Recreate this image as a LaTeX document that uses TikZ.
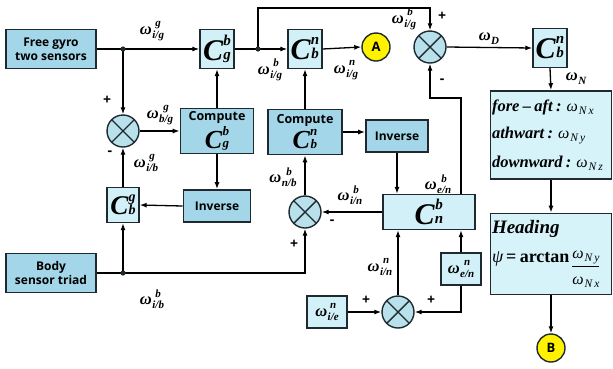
\documentclass[tikz,border=0pt]{standalone}
\usepackage{fontspec}
\usepackage{amsmath}
\usetikzlibrary{arrows.meta,calc}
\newfontfamily\tms{Liberation Serif}
\newfontfamily\sansb{Open Sans}
\definecolor{boxblue}{HTML}{A3D6E8}
\definecolor{cblue}{HTML}{D2F0F8}
\definecolor{sumblue}{HTML}{B9E1EC}
\definecolor{rblue}{HTML}{D6F3FA}
\definecolor{edge}{HTML}{1E2A30}
\newcommand\tbi{\tms\bfseries\itshape}
\newcommand\scripts[4]{%
  \setbox0=\hbox{#1}\setbox2=\hbox{#2}%
  \dimen0=\wd2 \ifdim\wd0>\dimen0 \dimen0=\wd0 \fi
  \rlap{\hbox to\dimen0{\hss\raise#3\box0\hss}}\hbox to\dimen0{\hss\lower#4\box2\hss}}
\newcommand\wl[2]{\mbox{\tbi\fontsize{16.5}{16.5}\selectfont ω\kern0.5pt\fontsize{11}{11}\selectfont\scripts{#1}{#2}{7.5pt}{4pt}}}
\newcommand\ws[1]{\mbox{\tbi\fontsize{16.5}{16.5}\selectfont ω\kern0.5pt\fontsize{11}{11}\selectfont\lower4pt\hbox{#1}}}
% C with scripts: sup, sub, C size, script size, raise, lower
\newcommand\Cg[6]{\mbox{\tbi\fontsize{#3}{#3}\selectfont C\kern0.3pt\fontsize{#4}{#4}\selectfont\scripts{#1}{#2}{#5}{#6}}}
\newcommand\Cbig[2]{\Cg{#1}{#2}{30}{15}{15pt}{-1pt}}
\newcommand\Cmid[2]{\Cg{#1}{#2}{26}{13}{13pt}{-0.5pt}}
\newcommand\wrt[1]{\mbox{\tms\itshape\fontsize{16}{16}\selectfont ω\kern1pt\fontsize{11.5}{11.5}\selectfont\lower3pt\hbox{#1}}}
\newcommand\rtx[1]{{\tbi\fontsize{16.5}{16.5}\selectfont #1}}
\begin{document}
\begin{tikzpicture}[x=1pt,y=-1pt,
  line width=1.3pt,
  arr/.style={-{Latex[length=7pt,width=5pt]}},
  bbox/.style={draw=edge, line width=1.6pt, fill=boxblue, inner sep=0pt, align=center,
     font=\sansb\bfseries\fontsize{12}{14}\selectfont},
  cbox/.style={draw=edge, line width=1.3pt, fill=cblue, inner sep=0pt},
  rbox/.style={draw=edge, line width=1.6pt, fill=rblue, inner sep=1.5pt},
  sumc/.style={circle, draw=edge, line width=1.4pt, fill=sumblue, minimum size=32pt, inner sep=0pt,
     path picture={\draw[line width=1.4pt,edge] (path picture bounding box.north west) -- (path picture bounding box.south east)
        (path picture bounding box.north east) -- (path picture bounding box.south west);}},
  ycirc/.style={circle, draw=edge, line width=1.4pt, fill=yellow, minimum size=28pt, inner sep=0pt,
     font=\sansb\bfseries\fontsize{13}{13}\selectfont},
  sign/.style={font=\sansb\bfseries\fontsize{14}{14}\selectfont, inner sep=0pt},
  lab/.style={inner sep=0pt}
]
\useasboundingbox (0,0) rectangle (613,368);

% left column
\node[bbox, minimum width=90, minimum height=39] (gyro) at (51,49) {Free gyro\\two sensors};
\node[bbox, minimum width=90, minimum height=39] (body) at (51,273) {Body\\sensor triad};
\node[sumc] (s1) at (123,131) {};
\node[cbox, minimum width=32, minimum height=35] (cbg) at (123,205) {\Cg{g}{b}{27}{14}{13.5pt}{-0.5pt}};

% Cgb column
\node[cbox, minimum width=34, minimum height=39] (cgb) at (217,49) {\Cbig{b}{g}};
\node[bbox, minimum width=73, minimum height=45, font=\sansb\bfseries\fontsize{12.5}{12}\selectfont] (ccg) at (217,131) {Compute\\[2pt]\Cmid{b}{g}};
\node[bbox, minimum width=67, minimum height=32] (inv1) at (217,206) {Inverse};

% Cbn column
\node[cbox, minimum width=34, minimum height=39] (cbn1) at (305,49) {\Cbig{n}{b}};
\node[ycirc] (A) at (376,47) {A};
\node[bbox, minimum width=74, minimum height=45, font=\sansb\bfseries\fontsize{12.5}{12}\selectfont] (ccn) at (305,132) {Compute\\[2pt]\Cmid{n}{b}};
\node[sumc] (s2) at (305,212) {};
\node[bbox, minimum width=62, minimum height=32] (inv2) at (397,136) {Inverse};
\node[cbox, minimum width=92, minimum height=35] (cnb) at (429,212) {\Cbig{b}{n}};
\node[sumc] (s4) at (398,312) {};
\node[cbox, minimum width=40, minimum height=32] (wie) at (327,312) {\wl{n}{i/e}};
\node[cbox, minimum width=40, minimum height=32] (wen) at (461,269) {\wl{n}{e/n}};

% right part
\node[sumc] (s3) at (430,47) {};
\node[cbox, minimum width=34, minimum height=39] (cbn2) at (550,48) {\Cbig{n}{b}};
\node[rbox, minimum width=120, minimum height=88, text width=118, align=left] (fore) at (551,135)
  {\rtx{fore – aft :} \wrt{N\kern2pt x}\\[11pt]
   \rtx{athwart :} \wrt{N\kern2pt y}\\[11pt]
   \rtx{downward :} \wrt{N\kern2pt z}};
\node[rbox, minimum width=120, minimum height=81, text width=118, align=left] (head) at (551,254)
  {{\tbi\fontsize{19}{19}\selectfont Heading}\\[10pt]
   {\tms\itshape\fontsize{18}{18}\selectfont ψ}\kern3pt{\tms\bfseries\fontsize{18}{18}\selectfont = arctan}\,\raisebox{-6pt}{$\genfrac{}{}{0.7pt}{0}{\hbox{\rule[-4pt]{0pt}{14pt}\wrt{N\kern2pt y}}}{\hbox{\rule{0pt}{16pt}\wrt{N\kern2pt x}}}$}};
\node[ycirc] (B) at (551,348) {B};

% junctions
\coordinate (j1) at (123,49);
\coordinate (j2) at (123,273);
\coordinate (j3) at (258,49);
\coordinate (fb) at (461,98);
\coordinate (top) at (258,8);

% connectors
\draw[arr] (gyro.east) -- (cgb.west);
\draw[arr] (j1) -- (s1.north);
\draw[arr] (s1.east) -- (ccg.west);
\draw[arr] (ccg.north) -- (cgb.south);
\draw[arr] (ccg.south) -- (inv1.north);
\draw[arr] (inv1.west) -- (cbg.east);
\draw[arr] (cbg.north) -- (s1.south);
\draw (body.east) -- (j2);
\draw[arr] (j2) -- (cbg.south);
\draw[arr] (j2) -| (s2.south);
\draw[arr] (cgb.east) -- (cbn1.west);
\draw[arr] (j3) -- (top) -| (s3.north);
\draw[arr] (cbn1.east) -- (A.west);
\draw[arr] (s3.east) -- (cbn2.west);
\draw[arr] (cbn2.south) -- (fore.north);
\draw[arr] (fore.south) -- (head.north);
\draw[arr] (head.south) -- (B.north);
\draw[arr] (ccn.north) -- (cbn1.south);
\draw[arr] (ccn.east) -- (ccn.east -| inv2.west);
\draw[arr] (inv2.south) -- (inv2.south |- cnb.north);
\draw[arr] (cnb.west) -- (s2.east);
\draw[arr] (s2.north) -- (ccn.south);
\draw[arr] (fb |- cnb.north) -- (fb) -| (s3.south);
\draw[arr] (s4.north) -- (s4.north |- cnb.south);
\draw[arr] (wie.east) -- (s4.west);
\draw[arr] (wen.north) -- (wen.north |- cnb.south);
\draw[arr] (wen.south) |- (s4.east);

\fill[edge] (j1) circle (2.6);
\fill[edge] (j2) circle (2.6);
\fill[edge] (j3) circle (2.6);

% labels
\node[lab] (l1) at (152,31) {\wl{g}{i/g}};
\node[lab] (l2) at (270,70) {\wl{b}{i/g}};
\node[lab] (l3) at (346,70) {\wl{n}{i/g}};
\node[lab] (l4) at (404,19) {\wl{b}{i/g}};
\node[sign] (p1) at (442,16) {+};
\node[lab] (l5) at (489,39) {\ws{D}};
\node[lab] (l6) at (576,79) {\ws{N}};
\node[sign] (m1) at (442,81) {-};
\node[lab] (l7) at (160,115) {\wl{g}{b/g}};
\node[sign] (p2) at (107,100) {+};
\node[sign] (m2) at (110,153) {-};
\node[lab] (l8) at (146,163) {\wl{g}{i/b}};
\node[lab] (l9) at (283,177) {\wl{b}{n/b}};
\node[lab] (l10) at (350,195) {\wl{b}{i/n}};
\node[sign] (m3) at (332,222) {-};
\node[sign] (p3) at (294,244) {+};
\node[lab] (l11) at (438,184) {\wl{b}{e/n}};
\node[lab] (l12) at (152,299) {\wl{b}{i/b}};
\node[lab] (l13) at (380,267) {\wl{n}{i/n}};
\node[sign] (p4) at (366,300) {+};
\node[sign] (p5) at (431,300) {+};
\end{tikzpicture}
\end{document}
